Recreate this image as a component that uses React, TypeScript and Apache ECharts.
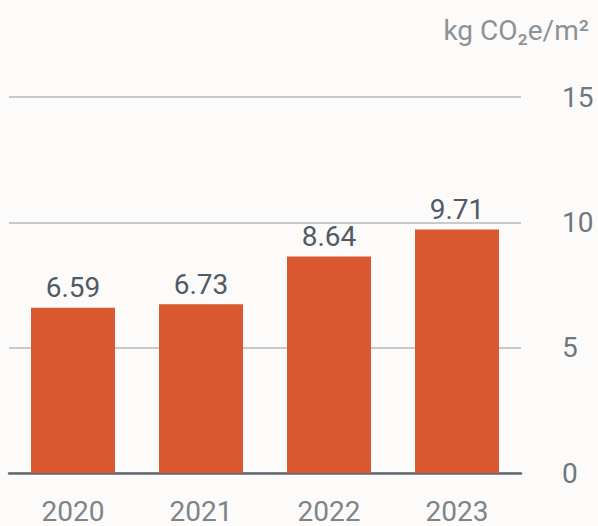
import React, { useEffect, useRef } from "react";
import * as echarts from "echarts";

const years = ["2020", "2021", "2022", "2023"];
const values = [6.59, 6.73, 8.64, 9.71];
const unitLabel = "kg CO₂e/m²";
const yTicks = [0, 5, 10, 15];

export default function App() {
  const ref = useRef<HTMLDivElement>(null);
  useEffect(() => {
    document.body.style.margin = "0";
    const chart = echarts.init(ref.current!, null, { renderer: "svg" });
    chart.setOption({
      animation: false,
      backgroundColor: "#fdfbf9",
      textStyle: { fontFamily: "Roboto" },
      grid: { left: 9, right: 77, top: 97, bottom: 53, containLabel: false, outerBoundsMode: "none" },
      graphic: [
        {
          type: "text",
          right: 9,
          top: 16,
          style: {
            text: unitLabel,
            font: "28px Roboto",
            fill: "#8b9399",
          },
        },
      ],
      xAxis: {
        type: "category",
        data: years,
        axisLine: { lineStyle: { color: "#5f6a74", width: 2.5 } },
        axisTick: { alignWithLabel: true, length: 9, lineStyle: { color: "#9aa2a8", width: 2 } },
        axisLabel: { color: "#7b858d", fontSize: 28, margin: 24, fontFamily: "Roboto" },
      },
      yAxis: {
        type: "value",
        position: "right",
        min: yTicks[0],
        max: yTicks[yTicks.length - 1],
        interval: 5,
        axisLine: { show: false },
        axisTick: { show: false },
        splitLine: { lineStyle: { color: "#c6cbce", width: 2 } },
        axisLabel: { color: "#6e7880", fontSize: 28, margin: 41, align: "left", fontFamily: "Roboto" },
      },
      series: [
        {
          type: "bar",
          data: values,
          barWidth: 84,
          itemStyle: { color: "#d9582f" },
          label: {
            show: true,
            position: "top",
            distance: 6,
            color: "#4f5b66",
            fontSize: 28,
            fontFamily: "Roboto",
            formatter: (p: any) => p.value.toFixed(2),
          },
        },
      ],
    });
    return () => chart.dispose();
  }, []);
  return <div ref={ref} style={{ width: 598, height: 526 }} />;
}
